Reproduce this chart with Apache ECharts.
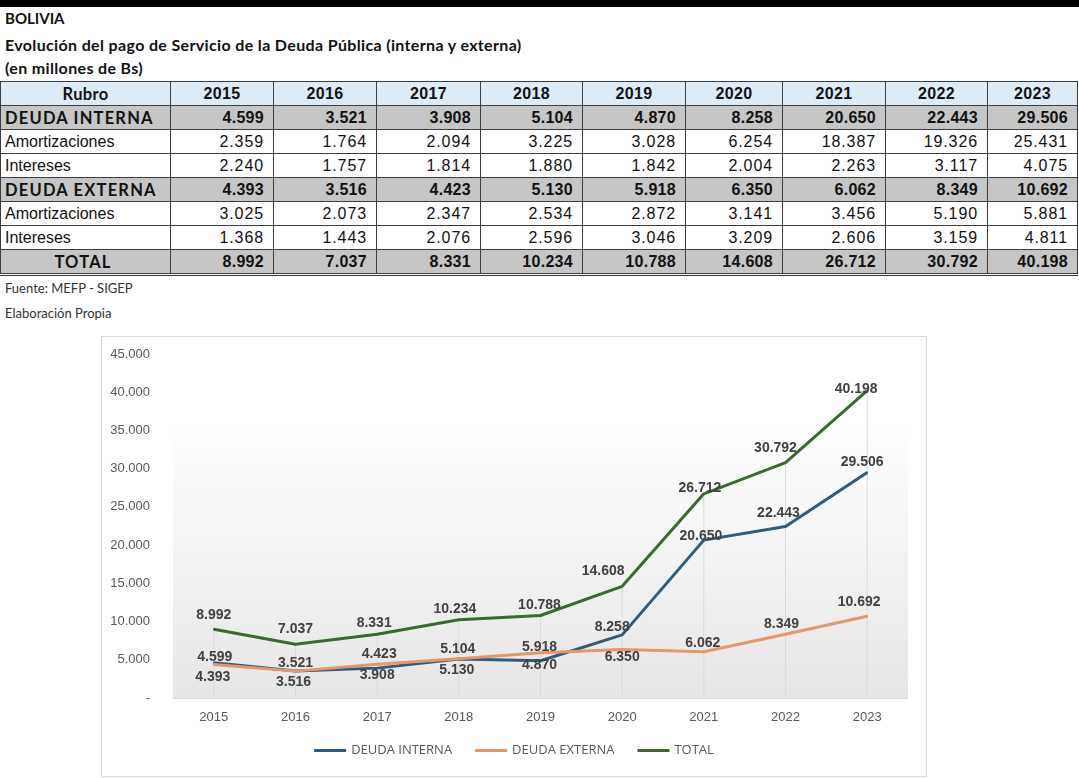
<!DOCTYPE html>
<html>
<head>
<meta charset="utf-8">
<script src="https://cdn.jsdelivr.net/npm/echarts@6/dist/echarts.min.js"></script>
<style>
  html, body { margin: 0; padding: 0; background: #fff; }
  body { width: 1079px; height: 778px; position: relative; overflow: hidden; }
  #topbar { position: absolute; left: 0; top: 0; width: 1079px; height: 7px; background: #000; }
  .ttl { position: absolute; left: 5px; font-family: Lato, "Noto Sans", sans-serif; font-weight: bold; font-size: 15px; line-height: 20px; color: #111; white-space: nowrap; }
  .sub { font-size: 16px; letter-spacing: 0.35px; }
  .note { position: absolute; left: 5px; font-family: Lato, "Noto Sans", sans-serif; font-size: 13px; line-height: 18px; color: #333; white-space: nowrap; }
  table { position: absolute; left: 0; top: 81px; border-collapse: collapse; table-layout: fixed; width: 1077px; }
  td, th { border: 1px solid #3c3c3c; height: 23px; padding: 0 9px 0 4px; font-family: "Liberation Sans", Arial, sans-serif; font-size: 16px; color: #111; white-space: nowrap; overflow: hidden; }
  th { background: #DDEBF7; font-weight: bold; text-align: center; padding: 0 4px; letter-spacing: 0.3px; }
  td.num { text-align: right; letter-spacing: 0.9px; }
  td.lbl { text-align: left; padding-left: 4px; }
  .lato { font-family: Lato, "Noto Sans", sans-serif; font-weight: bold; font-size: 16.5px; letter-spacing: 1.2px; }
  tr.grey td { background: #C6C6C6; font-weight: bold; }
  tr.grey td.num { letter-spacing: 0.3px; }
  tr.tot td { border-bottom: 3px double #3c3c3c; }
  #chartBox { position: absolute; left: 101px; top: 336px; width: 824px; height: 439px; border: 1px solid #d9d9d9; }
  #chart { width: 824px; height: 439px; }
</style>
</head>
<body>
<div id="topbar"></div>
<div class="ttl" style="top:8px">BOLIVIA</div>
<div class="ttl sub" style="top:35px">Evolución del pago de Servicio de la Deuda Pública (interna y externa)</div>
<div class="ttl sub" style="top:58px">(en millones de Bs)</div>
<table id="tbl"></table>
<div class="note" style="top:279px">Fuente: MEFP - SIGEP</div>
<div class="note" style="top:304px">Elaboración Propia</div>
<div id="chartBox"><div id="chart"></div></div>
<script>
// ---- data ----
const years = ['2015','2016','2017','2018','2019','2020','2021','2022','2023'];
const deudaInterna = [4599, 3521, 3908, 5104, 4870, 8258, 20650, 22443, 29506];
const internaAmort = [2359, 1764, 2094, 3225, 3028, 6254, 18387, 19326, 25431];
const internaInt   = [2240, 1757, 1814, 1880, 1842, 2004, 2263, 3117, 4075];
const deudaExterna = [4393, 3516, 4423, 5130, 5918, 6350, 6062, 8349, 10692];
const externaAmort = [3025, 2073, 2347, 2534, 2872, 3141, 3456, 5190, 5881];
const externaInt   = [1368, 1443, 2076, 2596, 3046, 3209, 2606, 3159, 4811];
const total        = [8992, 7037, 8331, 10234, 10788, 14608, 26712, 30792, 40198];
const seriesNames = ['DEUDA INTERNA', 'DEUDA EXTERNA', 'TOTAL'];

// ---- label placement (style only): pixel offsets of each data label from its point ----
const internaLabelOffset = [[1,-6],[0,-8],[0,7],[-1,-10],[-1,4],[-10,-8],[-3,-4],[-7,-13],[-5,-10]];
const externaLabelOffset = [[-1,13],[-2,11],[2,-10],[-2,11],[-1,-6],[0,8],[-1,-9],[-4,-10],[-8,-14]];
const totalLabelOffset   = [[0,-14],[0,-15],[-3,-11],[-4,-11],[-1,-10],[-19,-15],[-4,-6],[-10,-14],[-11,-2]];

function fmt(v) { return String(v).replace(/\B(?=(\d{3})+(?!\d))/g, '.'); }

// ---- table ----
(function buildTable() {
  const tbl = document.getElementById('tbl');
  const widths = [170,103,103,104,102,103,97,103,102,90];
  let html = '<colgroup>' + widths.map(w => '<col style="width:' + w + 'px">').join('') + '</colgroup>';
  html += '<tr><th class="lato" style="letter-spacing:0.3px">Rubro</th>' + years.map(y => '<th>' + y + '</th>').join('') + '</tr>';
  const rows = [
    ['DEUDA INTERNA', deudaInterna, 'grey'],
    ['Amortizaciones', internaAmort, ''],
    ['Intereses', internaInt, ''],
    ['DEUDA EXTERNA', deudaExterna, 'grey'],
    ['Amortizaciones', externaAmort, ''],
    ['Intereses', externaInt, ''],
    ['TOTAL', total, 'grey tot']
  ];
  rows.forEach(r => {
    const isGrey = r[2].indexOf('grey') >= 0;
    const align = r[0] === 'TOTAL' ? 'center' : 'left';
    html += '<tr class="' + r[2] + '"><td class="lbl' + (isGrey ? ' lato' : '') + '" style="text-align:' + align + '">' + r[0] + '</td>' +
      r[1].map(v => '<td class="num">' + fmt(v) + '</td>').join('') + '</tr>';
  });
  tbl.innerHTML = html;
})();

// ---- chart ----
const chart = echarts.init(document.getElementById('chart'), null, { renderer: 'canvas' });
const labelBase = { show: true, position: 'inside', fontFamily: '"Liberation Sans", Arial, sans-serif', fontWeight: 'bold', fontSize: 14, color: '#404040', formatter: p => fmt(p.value) };
function withLabels(vals, offs) {
  return vals.map((v, i) => ({ value: v, label: { offset: offs[i] } }));
}
const option = {
  animation: false,
  backgroundColor: 'transparent',
  grid: {
    left: 71, right: 18, top: 17, bottom: 78, containLabel: false,
    show: true, borderWidth: 0,
    backgroundColor: { type: 'linear', x: 0, y: 0, x2: 0, y2: 1, colorStops: [
      { offset: 0, color: '#ffffff' }, { offset: 0.2, color: '#ffffff' }, { offset: 1, color: '#e6e6e6' } ] }
  },
  legend: {
    data: seriesNames, bottom: 14, left: 'center', icon: 'rect', itemWidth: 32, itemHeight: 3, itemGap: 23,
    textStyle: { fontFamily: '"Open Sans", sans-serif', fontSize: 13, color: '#595959' }
  },
  xAxis: {
    type: 'category', data: years, boundaryGap: true,
    axisLine: { lineStyle: { color: '#d9d9d9', width: 1 } },
    axisTick: { show: false },
    axisLabel: { margin: 13, fontFamily: '"Liberation Sans", Arial, sans-serif', fontSize: 13, color: '#595959' },
    splitLine: { show: false }
  },
  yAxis: {
    type: 'value', min: 0, max: 45000, interval: 5000,
    axisLine: { show: false }, axisTick: { show: false }, splitLine: { show: false },
    axisLabel: { margin: 23, fontFamily: '"Liberation Sans", Arial, sans-serif', fontSize: 13, color: '#595959',
      formatter: v => v === 0 ? '-' : fmt(v) }
  },
  series: [
    { name: 'drop', type: 'bar', data: total, barWidth: 1, silent: true, z: 1,
      itemStyle: { color: '#dadada' }, tooltip: { show: false } },
    { name: seriesNames[0], type: 'line', data: withLabels(deudaInterna, internaLabelOffset), z: 3,
      symbol: 'circle', symbolSize: 2, lineStyle: { width: 3, color: '#2F5B7C' }, itemStyle: { color: '#2F5B7C' },
      label: labelBase },
    { name: seriesNames[1], type: 'line', data: withLabels(deudaExterna, externaLabelOffset), z: 4,
      symbol: 'circle', symbolSize: 2, lineStyle: { width: 3, color: '#E3976A' }, itemStyle: { color: '#E3976A' },
      label: labelBase },
    { name: seriesNames[2], type: 'line', data: withLabels(total, totalLabelOffset), z: 5,
      symbol: 'circle', symbolSize: 2, lineStyle: { width: 3, color: '#3A6A30' }, itemStyle: { color: '#3A6A30' },
      label: labelBase }
  ]
};
chart.setOption(option);
</script>
</body>
</html>
